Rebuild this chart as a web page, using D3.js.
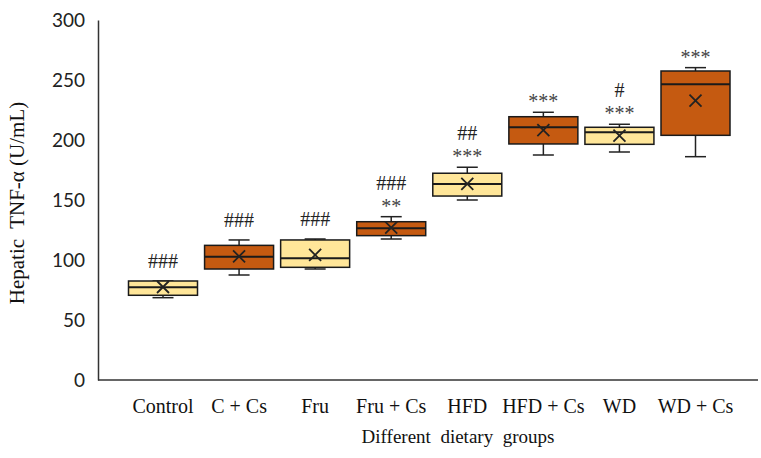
<!DOCTYPE html>
<html>
<head>
<meta charset="utf-8">
<script src="https://cdn.jsdelivr.net/npm/d3@7"></script>
<style>
  body { margin: 0; background: #fff; }
  svg { display: block; }
</style>
</head>
<body>
<div class="boxplot"></div>
<script>
// data
const groups = ['Control', 'C + Cs', 'Fru', 'Fru + Cs', 'HFD', 'HFD + Cs', 'WD', 'WD + Cs']
const mins    = [68.6, 87.5, 92.5, 117.5, 150, 187.5, 190, 186.1]
const q1s     = [70.6, 92.5, 93.9, 120.3, 153.3, 196.7, 196.4, 203.9]
const medians = [77.3, 102.8, 101.4, 126.4, 163.3, 210.6, 206.4, 246.4]
const q3s     = [82.5, 112.2, 116.7, 131.9, 172.3, 219.4, 210.6, 257.5]
const maxs    = [82.5, 116.7, 117.5, 136.1, 177.3, 223.1, 213.1, 260.3]
const means   = [77.5, 103, 104.2, 127, 163.5, 208.3, 203.6, 232.8]
const stars   = ['', '', '', '**', '***', '***', '***', '***']
const hashes  = ['###', '###', '###', '###', '##', '', '#', '']
const yTicks  = [0, 50, 100, 150, 200, 250, 300]

const width = 761
const height = 458
const margin = { top: 20, right: 3, bottom: 78, left: 98 }

const fills = ['#FFE699', '#C55A11']
const boxW = 69
const capW = 21
const serif = '"Liberation Serif", "Times New Roman", serif'

const list = groups.map((g, i) => ({
    name: g,
    min: mins[i], q1: q1s[i], median: medians[i], q3: q3s[i], max: maxs[i],
    mean: means[i], stars: stars[i], hashes: hashes[i], i: i
}))

const svg = d3.select('.boxplot')
    .append('svg')
    .attr('width', width)
    .attr('height', height)

const x = d3.scalePoint()
    .domain(groups)
    .range([163, 695.5])

const y = d3.scaleLinear()
    .domain([0, 300])
    .range([height - margin.bottom, margin.top])

// y axis
const yAxis = svg.append('g')
    .attr('transform', `translate(${margin.left},0)`)
    .call(d3.axisLeft(y).tickValues(yTicks).tickSize(0).tickPadding(13))
yAxis.select('.domain').attr('stroke', '#333').attr('stroke-width', 1.5)
yAxis.selectAll('text')
    .attr('font-family', 'Lato, "Open Sans", sans-serif')
    .attr('font-size', 19)
    .attr('fill', '#222')

// x axis
svg.append('line')
    .attr('x1', margin.left).attr('x2', width - margin.right)
    .attr('y1', y(0)).attr('y2', y(0))
    .attr('stroke', '#333').attr('stroke-width', 1.5)

svg.append('g').selectAll('text')
    .data(list)
    .enter()
    .append('text')
    .attr('x', d => x(d.name))
    .attr('y', y(0) + 33)
    .attr('text-anchor', 'middle')
    .attr('font-family', serif)
    .attr('font-size', 20)
    .attr('fill', '#111')
    .text(d => d.name)

// axis titles
svg.append('text')
    .attr('x', 458)
    .attr('y', 443)
    .attr('text-anchor', 'middle')
    .attr('font-family', serif)
    .attr('font-size', 19)
    .attr('fill', '#111')
    .style('white-space', 'pre')
    .text('Different  dietary  groups')

svg.append('text')
    .attr('transform', 'translate(24,203) rotate(-90)')
    .attr('text-anchor', 'middle')
    .attr('font-family', serif)
    .attr('font-size', 21)
    .attr('fill', '#111')
    .style('white-space', 'pre')
    .text('Hepatic  TNF-\u03b1 (U/mL)')

// boxes
const box = svg.append('g').selectAll('g')
    .data(list)
    .enter()
    .append('g')

// whiskers
box.append('line')
    .attr('x1', d => x(d.name)).attr('x2', d => x(d.name))
    .attr('y1', d => y(d.max)).attr('y2', d => y(d.q3))
    .attr('stroke', '#222').attr('stroke-width', 1.5)
box.append('line')
    .attr('x1', d => x(d.name)).attr('x2', d => x(d.name))
    .attr('y1', d => y(d.q1)).attr('y2', d => y(d.min))
    .attr('stroke', '#222').attr('stroke-width', 1.5)
box.append('line')
    .attr('x1', d => x(d.name) - capW / 2).attr('x2', d => x(d.name) + capW / 2)
    .attr('y1', d => y(d.max)).attr('y2', d => y(d.max))
    .attr('stroke', '#222').attr('stroke-width', 1.5)
box.append('line')
    .attr('x1', d => x(d.name) - capW / 2).attr('x2', d => x(d.name) + capW / 2)
    .attr('y1', d => y(d.min)).attr('y2', d => y(d.min))
    .attr('stroke', '#222').attr('stroke-width', 1.5)

box.append('rect')
    .attr('x', d => x(d.name) - boxW / 2)
    .attr('y', d => y(d.q3))
    .attr('width', boxW)
    .attr('height', d => y(d.q1) - y(d.q3))
    .attr('fill', d => fills[d.i % 2])
    .attr('stroke', '#1a1a1a')
    .attr('stroke-width', 1.5)

// median
box.append('line')
    .attr('x1', d => x(d.name) - boxW / 2).attr('x2', d => x(d.name) + boxW / 2)
    .attr('y1', d => y(d.median)).attr('y2', d => y(d.median))
    .attr('stroke', '#1a1a1a').attr('stroke-width', 2)

// mean marker
box.append('path')
    .attr('d', d => {
        const cx = x(d.name), cy = y(d.mean), s = 6
        return `M${cx - s},${cy - s}L${cx + s},${cy + s}M${cx - s},${cy + s}L${cx + s},${cy - s}`
    })
    .attr('stroke', '#222').attr('stroke-width', 1.8).attr('fill', 'none')

// significance marks
box.append('text')
    .attr('x', d => x(d.name))
    .attr('y', d => y(d.max) - 4)
    .attr('text-anchor', 'middle')
    .attr('font-family', serif)
    .attr('font-size', 20)
    .attr('fill', '#444')
    .text(d => d.stars)

box.append('text')
    .attr('x', d => x(d.name))
    .attr('y', d => y(d.max) - (d.stars ? 27 : 13))
    .attr('text-anchor', 'middle')
    .attr('font-family', serif)
    .attr('font-size', 20)
    .attr('fill', '#222')
    .text(d => d.hashes)
</script>
</body>
</html>
